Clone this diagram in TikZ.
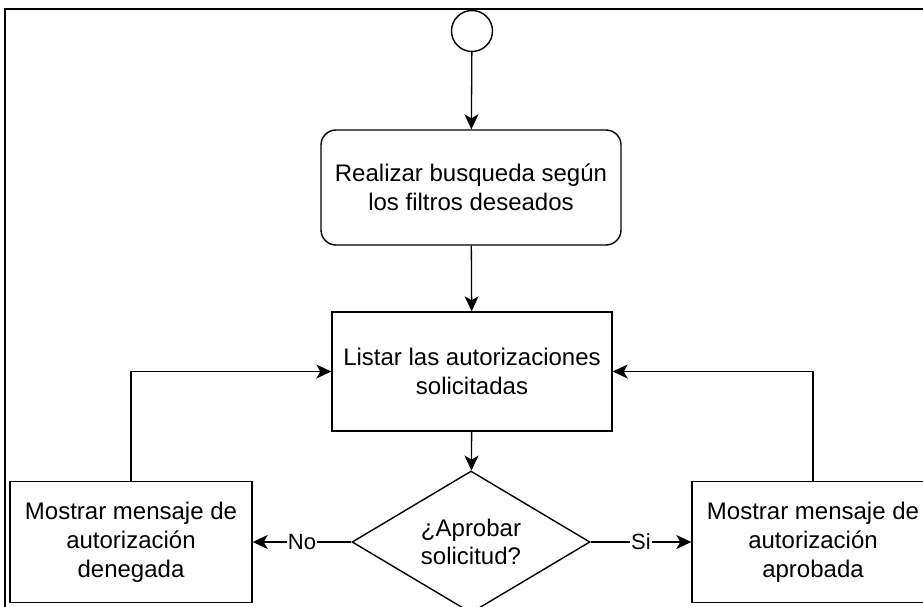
\documentclass[tikz,border=0pt]{standalone}
\usepackage{fontspec}
\setmainfont{Liberation Sans}
\usepackage{tikz}
\usetikzlibrary{arrows.meta,positioning,shapes.geometric}

\begin{document}
\begin{tikzpicture}[
    x=1pt, y=-1pt,
    box/.style={draw, line width=1.4pt, align=center, minimum width=280pt,
      minimum height=119pt, inner sep=0pt, font=\fontsize{24}{28.8}\selectfont},
    edgelabel/.style={fill=white, inner sep=1pt, font=\fontsize{22}{26}\selectfont},
    arrow/.style={-{Stealth[length=15pt, width=14pt, inset=4pt]}, line width=1.3pt}
  ]
    \useasboundingbox (0,0) rectangle (923,607);
    \clip (0,0) rectangle (923,607);
    \draw[line width=1.6pt] (5,9) rectangle (950,650);
    \node[draw, circle, line width=1.4pt, minimum size=41pt, inner sep=0pt] (start) at (472,31) {};
    \node[box, rounded corners=15pt, minimum width=300pt, minimum height=115pt] (search) at (471,187.5) {Realizar busqueda según\\los filtros deseados};
    \node[box] (list) at (472,371.5) {Listar las autorizaciones\\solicitadas};
    \node[box, diamond, aspect=1.7, minimum width=238pt, minimum height=142pt] (decide) at (471,542) {¿Aprobar\\solicitud?};
    \node[box, minimum width=242pt, minimum height=121pt] (denied) at (131,542) {Mostrar mensaje de\\autorización\\denegada};
    \node[box, minimum width=242pt, minimum height=121pt] (approved) at (813,542) {Mostrar mensaje de\\autorización\\aprobada};
    \draw[arrow] (start) -- (search);
    \draw[arrow] (search) -- (list);
    \draw[arrow] (list) -- (decide);
    \draw[arrow] (decide) -- node[edgelabel] {No} (denied);
    \draw[arrow] (decide) -- node[edgelabel] {Si} (approved);
    \draw[arrow] (denied.north) |- (list.west);
    \draw[arrow] (approved.north) |- (list.east);
\end{tikzpicture}
\end{document}
